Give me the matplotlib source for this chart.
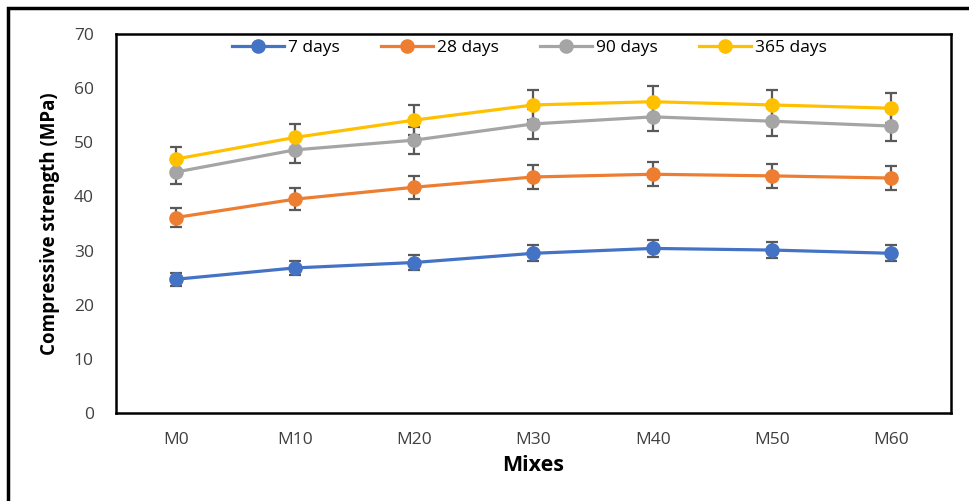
import matplotlib
matplotlib.use("Agg")
import matplotlib.pyplot as plt
from matplotlib.patches import Rectangle

plt.rcParams['font.family'] = ['Liberation Sans Narrow', 'Open Sans', 'DejaVu Sans']

# data
mixes = ["M0", "M10", "M20", "M30", "M40", "M50", "M60"]
days_7 = [24.7, 26.8, 27.8, 29.5, 30.4, 30.1, 29.5]
days_28 = [36.1, 39.5, 41.7, 43.6, 44.1, 43.8, 43.4]
days_90 = [44.5, 48.6, 50.4, 53.4, 54.7, 53.9, 53.0]
days_365 = [46.9, 50.9, 54.1, 56.9, 57.5, 56.9, 56.3]
err_7 = [1.2, 1.3, 1.4, 1.5, 1.5, 1.5, 1.5]
err_28 = [1.8, 2.0, 2.1, 2.2, 2.2, 2.2, 2.2]
err_90 = [2.2, 2.4, 2.5, 2.7, 2.7, 2.7, 2.7]
err_365 = [2.3, 2.5, 2.7, 2.8, 2.9, 2.8, 2.8]
labels = ["7 days", "28 days", "90 days", "365 days"]
colors = ["#4472C4", "#ED7D31", "#A5A5A5", "#FFC000"]

fig = plt.figure(figsize=(9.69, 5.01), dpi=100)
ax = fig.add_axes([0.1197, 0.1756, 0.8617, 0.7565])

x = list(range(len(mixes)))
series = [(days_7, err_7), (days_28, err_28), (days_90, err_90), (days_365, err_365)]
for (vals, errs), lab, col in zip(series, labels, colors):
    ax.errorbar(x, vals, yerr=errs, color=col, lw=2.3, marker='o', ms=9.5,
                ecolor='#595959', elinewidth=1.6, capsize=4, capthick=1.6,
                label=lab, zorder=3)

ax.set_xlim(-0.5, len(mixes) - 0.5)
ax.set_ylim(0, 70)
ax.set_yticks(range(0, 71, 10))
ax.set_xticks(x)
ax.set_xticklabels(mixes)
ax.tick_params(length=0, labelsize=12.5, colors='#404040')
ax.tick_params(axis='y', pad=16)
ax.tick_params(axis='x', pad=14)
for s in ax.spines.values():
    s.set_linewidth(1.8)
    s.set_color('black')

ax.set_ylabel("Compressive strength (MPa)", fontsize=13.5, fontweight='bold', labelpad=10)
ax.set_xlabel("Mixes", fontsize=15.5, fontweight='bold', labelpad=5)

# legend handles without error bars
handles, labs = ax.get_legend_handles_labels()
handles = [h[0] for h in handles]
ax.legend(handles, labs, loc='upper center', bbox_to_anchor=(0.495, 1.025), ncol=4,
          frameon=False, fontsize=12.5, handlelength=3.0, columnspacing=2.4,
          handletextpad=0.2)

# outer frame around the chart
fig.patches.append(Rectangle((8 / 969, -0.1), 1.2, 1.1 - 8 / 501, transform=fig.transFigure,
                             fill=False, lw=2.5, ec='black'))

fig.savefig("out.png", dpi=100)
